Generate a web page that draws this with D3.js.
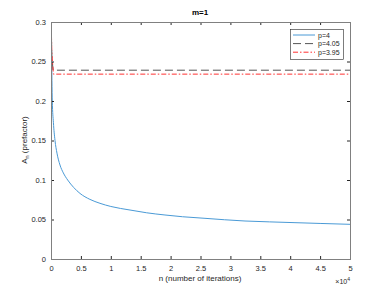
<!DOCTYPE html>
<meta charset="utf-8">
<style>
body { margin: 0; background: #fff; }
text { font-family: "Liberation Sans", Arial, sans-serif; fill: #262626; }
</style>
<svg width="388" height="291"></svg>
<script src="https://d3js.org/d3.v7.min.js"></script>
<script>

// values
var n4 = [20, 100, 217, 400, 670, 1000, 1500, 2060, 2790, 3800, 4850, 6500, 8190, 10000, 13210, 16000, 19060, 22000, 25750, 29000, 32440, 36500, 40800, 45000, 50000];
var a4 = [0.31, 0.26, 0.2, 0.173, 0.15, 0.134, 0.119, 0.109, 0.1, 0.0905, 0.083, 0.0755, 0.0705, 0.0665, 0.062, 0.0585, 0.0557, 0.0535, 0.0515, 0.0497, 0.0481, 0.047, 0.046, 0.045, 0.0439];
var n405 = [0, 150, 350, 50000];
var a405 = [0.31, 0.255, 0.239, 0.239];
var n395 = [0, 150, 400, 50000];
var a395 = [0.31, 0.26, 0.234, 0.234];

var xTicks = [0, 0.5, 1, 1.5, 2, 2.5, 3, 3.5, 4, 4.5, 5];
var yTicks = [0, 0.05, 0.1, 0.15, 0.2, 0.25, 0.3];
var legendLabels = ["p=4", "p=4.05", "p=3.95"];

var svg = d3.select("svg");
// note: "top" is taken by window.top, so use other names
var axL = 51, axR = 350, axT = 22, axB = 259;

var x = d3.scaleLinear().domain([0, 50000]).range([axL, axR]);
var y = d3.scaleLinear().domain([0, 0.3]).range([axB, axT]);

//clip so spikes don't leave the box
svg.append("clipPath").attr("id", "clip")
  .append("rect").attr("x", axL).attr("y", axT)
  .attr("width", axR - axL).attr("height", axB - axT);

var line = d3.line()
  .x(function(d) { return x(d[0]); })
  .y(function(d) { return y(d[1]); });

var series = [
  { pts: d3.zip(n4, a4), color: "#4a9ad6", dash: null, curve: d3.curveMonotoneX },
  { pts: d3.zip(n405, a405), color: "#555", dash: "8,4", curve: d3.curveLinear },
  { pts: d3.zip(n395, a395), color: "#ff3030", dash: "5,2,1.5,2", curve: d3.curveLinear }
];

var plot = svg.append("g").attr("clip-path", "url(#clip)");
series.forEach(function(s) {
  plot.append("path")
    .attr("d", line.curve(s.curve)(s.pts))
    .attr("fill", "none")
    .attr("stroke", s.color)
    .attr("stroke-width", 1)
    .attr("stroke-dasharray", s.dash);
});

// axes (ticks inside, box on)
var xs = d3.scaleLinear().domain([0, 5]).range([axL, axR]);
function tickStyle(g) {
  g.select(".domain").remove();
  g.selectAll("line").attr("stroke", "#262626");
  g.selectAll("text").style("font-size", "7.5px").attr("fill", "#262626");
}
svg.append("g").attr("transform", "translate(0," + axB + ")")
  .call(d3.axisBottom(xs).tickValues(xTicks).tickSize(-3).tickPadding(7).tickFormat(d3.format("")))
  .call(tickStyle);
svg.append("g").attr("transform", "translate(0," + axT + ")")
  .call(d3.axisTop(xs).tickValues(xTicks).tickSize(-3).tickFormat(""))
  .call(tickStyle);
svg.append("g").attr("transform", "translate(" + axL + ",0)")
  .call(d3.axisLeft(y).tickValues(yTicks).tickSize(-3).tickPadding(5).tickFormat(d3.format("")))
  .call(tickStyle);
svg.append("g").attr("transform", "translate(" + axR + ",0)")
  .call(d3.axisRight(y).tickValues(yTicks).tickSize(-3).tickFormat(""))
  .call(tickStyle);

svg.append("rect")
  .attr("x", axL + 0.5).attr("y", axT + 0.5)
  .attr("width", axR - axL).attr("height", axB - axT)
  .attr("fill", "none").attr("stroke", "#808080");

// labels
svg.append("text").attr("x", 200).attr("y", 15).attr("text-anchor", "middle")
  .style("font-size", "8px").style("font-weight", "bold").style("fill", "#000").text("m=1");
svg.append("text").attr("x", 200).attr("y", 281).attr("text-anchor", "middle")
  .style("font-size", "8px").text("n (number of iterations)");
var yl = svg.append("text").attr("transform", "translate(27,140) rotate(-90)")
  .attr("text-anchor", "middle").style("font-size", "8px");
yl.append("tspan").text("A");
yl.append("tspan").attr("dy", 2).style("font-size", "5.5px").text("n");
yl.append("tspan").attr("dy", -2).text("  (prefactor)");
var ex = svg.append("text").attr("x", 350).attr("y", 284).attr("text-anchor", "end").style("font-size", "7px");
ex.append("tspan").text("\u00d710");
ex.append("tspan").attr("dy", -3).style("font-size", "5px").text("4");

// legend
var lg = svg.append("g");
lg.append("rect").attr("x", 290.5).attr("y", 29.5).attr("width", 53).attr("height", 30)
  .attr("fill", "#fff").attr("stroke", "#262626").attr("stroke-width", 0.6);
legendLabels.forEach(function(lab, i) {
  var yy = 35 + i * 8.6;
  lg.append("line").attr("x1", 293).attr("x2", 315).attr("y1", yy).attr("y2", yy)
    .attr("stroke", series[i].color).attr("stroke-width", 1)
    .attr("stroke-dasharray", series[i].dash);
  lg.append("text").attr("x", 318).attr("y", yy + 2.5).style("font-size", "7px").text(lab);
});
</script>
